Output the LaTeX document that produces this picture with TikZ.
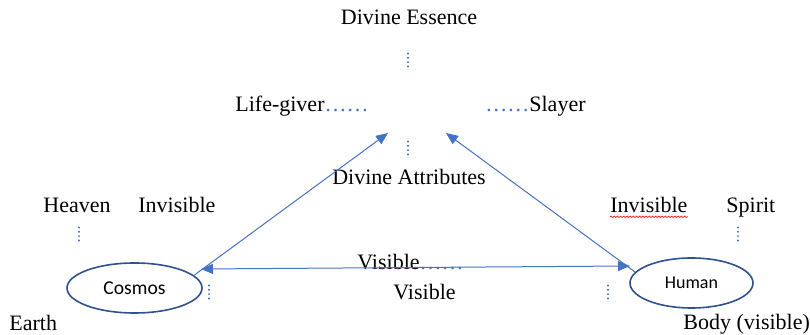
\documentclass[tikz,border=0pt]{standalone}
\usepackage{fontspec}
\setmainfont{Liberation Serif}
\newfontfamily\calibri{Carlito}
\usetikzlibrary{shapes,arrows.meta,decorations.pathmorphing}
\definecolor{lineblue}{RGB}{68,114,196}
\definecolor{rimblue}{RGB}{47,82,143}
\definecolor{squiggle}{RGB}{235,45,45}
\newcommand{\dotrow}{{\color{lineblue}……}}
\newcommand{\vdotcol}[1]{\foreach \k in {-1.5,-0.5,0.5,1.5}{\fill[lineblue] (#1) ++(0,\k*4.3) circle (0.55pt);}}

\begin{document}
\begin{tikzpicture}[x=0.5pt,y=-0.5pt,>={Triangle[length=6pt,width=5pt]},
  every node/.style={font=\fontsize{11}{13}\selectfont,inner sep=0pt},
  link/.style={lineblue,line width=0.5pt},
  orb/.style={ellipse,draw=rimblue,line width=0.8pt,minimum height=25pt}]
\useasboundingbox (0,0) rectangle (810,335);

\node[anchor=base](essence) at (409,25) {Divine Essence};
\node[anchor=base west](giver) at (235,112) {Life-giver\dotrow};
\node[anchor=base west](slayer) at (485,112) {\dotrow Slayer};
\node[anchor=base](attrib) at (409,185) {Divine Attributes};
\node[anchor=base west](heaven) at (43,213) {Heaven};
\node[anchor=base west](invisL) at (138,213) {Invisible};
\node[anchor=base west](invisR) at (610,213) {Invisible};
\node[anchor=base west](spirit) at (726,213) {Spirit};
\node[anchor=base west](earth) at (9,331) {Earth};
\node[anchor=base west](body) at (683,330) {Body (visible)};
\node[anchor=base west](visA) at (357,270) {Visible\dotrow};
\node[anchor=base west](visB) at (393,300) {Visible};

\node[orb,minimum width=67.5pt,font=\calibri\fontsize{9.8}{11}\selectfont](cosmos) at (134.5,288) {Cosmos};
\node[orb,minimum width=61.5pt,font=\calibri\fontsize{9}{11}\selectfont](human) at (691.5,283) {Human};

% vertical dot marks
\coordinate (dotsTop) at (408,60);
\coordinate (dotsMid) at (408,148);
\coordinate (dotsHeaven) at (79,234);
\coordinate (dotsCosmos) at (209,292);
\coordinate (dotsHuman) at (608,292);
\coordinate (dotsSpirit) at (738,234);
\foreach \d in {dotsTop,dotsMid,dotsHeaven,dotsCosmos,dotsHuman,dotsSpirit} {\vdotcol{\d}}

% arrows
\coordinate (tipL) at (388,133);
\coordinate (tipR) at (446,133);
\coordinate (visL) at (201,269);
\coordinate (visR) at (630,266);
\draw[link,->](cosmos.12) -- (tipL);
\draw[link,->](human.169) -- (tipR);
\draw[link,<->](visL) -- (visR);

% spelling squiggle
\draw[squiggle,line width=0.4pt,decorate,decoration={snake,amplitude=0.35pt,segment length=1.6pt}]
  ([yshift=-1.6pt]invisR.south west) -- ([yshift=-1.6pt]invisR.south east);
\end{tikzpicture}
\end{document}
